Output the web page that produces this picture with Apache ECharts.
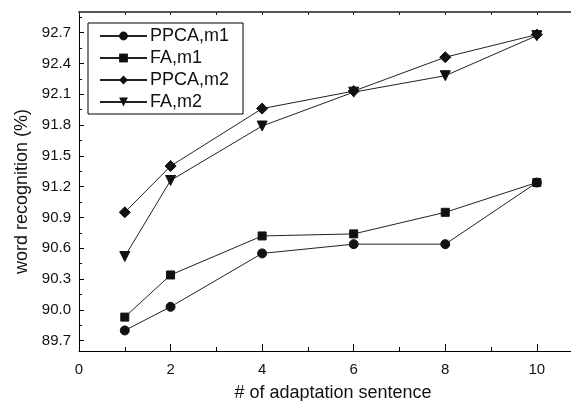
<!DOCTYPE html>
<html><head><meta charset="utf-8">
<script src="https://cdn.jsdelivr.net/npm/echarts@6/dist/echarts.min.js"></script>
<style>html,body{margin:0;padding:0;background:#fff}#c{width:571px;height:401px}</style>
</head><body><div id="c"></div>
<script>
const xValues = [1, 2, 4, 6, 8, 10];
const ppcaM1 = [89.80, 90.03, 90.55, 90.64, 90.64, 91.24];
const faM1 = [89.93, 90.34, 90.72, 90.74, 90.95, 91.24];
const ppcaM2 = [90.95, 91.40, 91.96, 92.13, 92.46, 92.68];
const faM2 = [90.52, 91.26, 91.79, 92.12, 92.28, 92.67];
const seriesNames = ['PPCA,m1', 'FA,m1', 'PPCA,m2', 'FA,m2'];
const yTickValues = [89.7, 90.0, 90.3, 90.6, 90.9, 91.2, 91.5, 91.8, 92.1, 92.4, 92.7];
const yMinorValues = [89.85, 90.15, 90.45, 90.75, 91.05, 91.35, 91.65, 91.95, 92.25, 92.55, 92.85];

const FONT = '"Liberation Sans", Arial, sans-serif';
const chart = echarts.init(document.getElementById('c'), null, {renderer: 'canvas'});
const mk = (arr) => xValues.map((x, i) => [x, arr[i]]);
const symbols = [
  {symbol: 'circle', size: 9, rotate: 0},
  {symbol: 'rect', size: 8, rotate: 0},
  {symbol: 'diamond', size: 11, rotate: 0},
  {symbol: 'triangle', size: 10, rotate: 180}
];
const datas = [ppcaM1, faM1, ppcaM2, faM2];
const XMAX = 10.79;
chart.setOption({
  animation: false,
  textStyle: {fontFamily: FONT},
  grid: {left: 79, top: 12, right: -2, bottom: 50, containLabel: false, outerBoundsMode: 'none'},
  legend: {
    left: 88, top: 23, orient: 'vertical',
    borderColor: '#000', borderWidth: 1, backgroundColor: '#fff',
    padding: [4, 14, 3, 11],
    itemWidth: 47, itemHeight: 11, itemGap: 4,
    textStyle: {fontFamily: FONT, fontSize: 18, color: '#111', padding: [0, 0, 0, -2]},
    data: seriesNames
  },
  xAxis: [{
    type: 'value', min: 0, max: XMAX, interval: 2,
    name: '# of adaptation sentence', nameLocation: 'middle', nameGap: 33,
    nameTextStyle: {fontSize: 18, color: '#111', fontFamily: FONT, padding: [0, 0, 0, 14]},
    axisLine: {show: true, lineStyle: {color: '#000', width: 1}},
    axisTick: {show: true, inside: true, length: 7, lineStyle: {color: '#000'}},
    minorTick: {show: true, splitNumber: 2, length: 4, lineStyle: {color: '#000'}},
    axisLabel: {fontSize: 15, color: '#111', margin: 11, fontFamily: FONT,
      formatter: (v) => (Math.abs(v - Math.round(v)) < 1e-6 && Math.round(v) % 2 === 0) ? String(Math.round(v)) : ''},
    splitLine: {show: false}
  }, {
    type: 'value', min: 0, max: XMAX, interval: 1, position: 'top', show: true,
    axisLine: {show: true, onZero: false, lineStyle: {color: '#555', width: 2}},
    axisTick: {show: true, inside: true, length: 3, lineStyle: {color: '#222'}},
    axisLabel: {show: false}, splitLine: {show: false}
  }],
  yAxis: [{
    type: 'value', min: 89.6, max: 92.9,
    name: 'word recognition (%)', nameLocation: 'middle', nameGap: 47,
    nameTextStyle: {fontSize: 18, color: '#111', fontFamily: FONT, padding: [0, 20, 0, 0]},
    axisLine: {show: true, lineStyle: {color: '#000', width: 1}},
    axisTick: {show: true, inside: true, length: 5, customValues: yTickValues, lineStyle: {color: '#000'}},
    axisLabel: {fontSize: 15, color: '#111', margin: 8, customValues: yTickValues, fontFamily: FONT,
      formatter: (v) => v.toFixed(1)},
    splitLine: {show: false}
  }, {
    type: 'value', min: 89.6, max: 92.9, position: 'left',
    axisLine: {show: false},
    axisTick: {show: true, inside: true, length: 3, customValues: yMinorValues, lineStyle: {color: '#000'}},
    axisLabel: {show: false}, splitLine: {show: false}
  }],
  series: datas.map((d, i) => ({
    name: seriesNames[i], type: 'line', data: mk(d),
    symbol: symbols[i].symbol, symbolSize: symbols[i].size, symbolRotate: symbols[i].rotate,
    showAllSymbol: true,
    lineStyle: {color: '#222', width: 1},
    itemStyle: {color: '#111', borderColor: '#111'},
    emphasis: {disabled: true}
  }))
});
</script></body></html>
